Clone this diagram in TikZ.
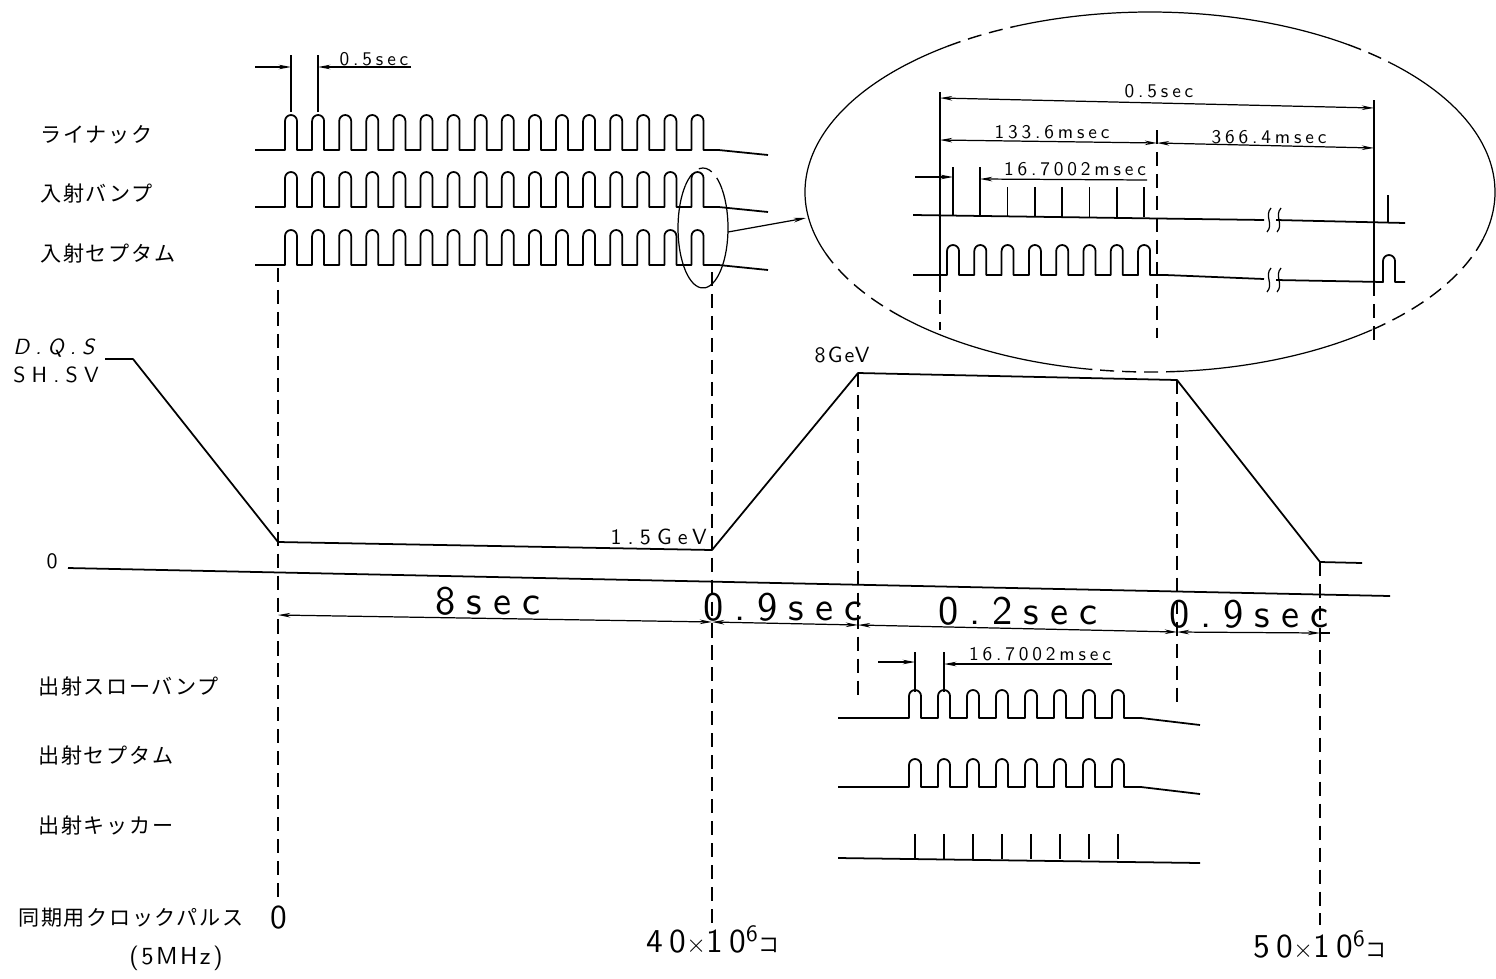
\documentclass[tikz,border=0pt]{standalone}
\usepackage{fontspec}
\newfontfamily\jp{Noto Sans CJK JP}[LetterSpace=8]
\newfontfamily\plt{lmsans10-regular.otf}[LetterSpace=20,ItalicFont=lmsans10-oblique.otf]
\newfontfamily\pltwide{lmsans10-regular.otf}[LetterSpace=28,ItalicFont=lmsans10-oblique.otf]
\newfontfamily\plttight{lmsans10-regular.otf}[LetterSpace=10]
\usetikzlibrary{arrows.meta}
% break mark on a long time line
\newcommand{\brkmark}[2]{%
  \draw[line width=0.7pt] (#1+3,#2-12) .. controls (#1-4,#2-4) and (#1+6,#2+4) .. (#1-1,#2+12);}

\begin{document}
\begin{tikzpicture}[x=0.2mm,y=-0.2mm,
  wave/.style={line width=1pt,line join=round},
  guide/.style={line width=0.8pt,dash pattern=on 8pt off 4.5pt},
  dimline/.style={line width=0.7pt},
  >={Stealth[length=7pt,width=2.6pt]},
  jlab/.style={font={\fontsize{12}{12}\jp},anchor=west,inner sep=0pt},
  smalltxt/.style={font={\fontsize{11}{11}\plt},inner sep=0pt},
  midtxt/.style={font={\fontsize{12.5}{12.5}\pltwide},inner sep=0pt},
  bigtxt/.style={font={\fontsize{23}{23}\pltwide},inner sep=0pt},
  cnttxt/.style={font={\fontsize{19}{19}\plt},inner sep=0pt}]
  \useasboundingbox (0,0) rectangle (1496,978);
  \def\ra{345}
  \def\rb{180}

  % signal names
  \node[jlab] (linac) at (40,135) {ライナック};
  \node[jlab] (injbump) at (40,193) {入射バンプ};
  \node[jlab] (injsep) at (40,253) {入射セプタム};
  \node[jlab] (extbump) at (38,686) {出射スローバンプ};
  \node[jlab] (extsep) at (38,755) {出射セプタム};
  \node[jlab] (extkick) at (38,825) {出射キッカー};
  \node[jlab] (clock) at (18,918) {同期用クロックパルス};
  \node[inner sep=0pt,font={\fontsize{14}{14}\plttight}] (mhz) at (176,958) {(5MHz)};
  \node[cnttxt] (c0) at (279,918) {0};
  \node[cnttxt] (c40) at (713,940) {40{\fontsize{14}{14}\selectfont$\times$}10\textsuperscript{6}{\fontsize{12}{12}\jp コ}};
  \node[cnttxt] (c50) at (1320,945) {50{\fontsize{14}{14}\selectfont$\times$}10\textsuperscript{6}{\fontsize{12}{12}\jp コ}};

  % injection pulse trains
  \foreach \yb in {150,207,265}
    \draw[wave] (255,\yb) -- (285,\yb)
      \foreach \i in {1,...,16} { -- ++(0,-29) arc[start angle=180,end angle=360,radius=6] -- ++(0,29) -- ++(15.1,0) }
      -- (768,\yb+5);
  \draw[dimline] (291,112) -- (291,55) (318,112) -- (318,55);
  \draw[dimline,->] (255,67) -- (291,67);
  \draw[dimline,->] (411,67) -- (318,67);
  \node[smalltxt] (t05) at (374,59) {0.5sec};

  % close-up marks
  \coordinate (sel) at (703,228);
  \coordinate (mag) at (1150,192);
  \draw[guide,line width=0.7pt] ([shift={(225:25 and 60)}]sel) arc[start angle=225,end angle=320,x radius=25,y radius=60];
  \draw[dimline] ([shift={(320:25 and 60)}]sel) arc[start angle=320,end angle=585,x radius=25,y radius=60];
  \foreach \a/\b/\s in {160/234/solid,234/247/guide,247/305/solid,305/314/guide,314/375/solid,
                        15/50/guide,50/85/solid,85/100/guide,100/136/solid,136/160/guide}
    \draw[dimline,\s] ([shift={(\a:{\ra} and {\rb})}]mag) arc[start angle=\a,end angle=\b,x radius=\ra,y radius=\rb];
  \coordinate (selR) at (728,232);
  \coordinate (magL) at (806,218);
  \draw[dimline,->] (selR) -- (magL);

  % inside the close-up
  \draw[dimline] (940,92) -- (940,278);
  \draw[guide] (940,278) -- (940,330);
  \draw[guide] (1157,130) -- (1157,338);
  \draw[dimline] (1374,100) -- (1374,282);
  \draw[guide] (1374,282) -- (1374,340);
  \draw[dimline,<->] (940,98) -- (1374,108);
  \node[smalltxt] (i05) at (1159,91) {0.5sec};
  \draw[dimline,<->] (940,140) -- (1157,143);
  \node[smalltxt] (i133) at (1052,132) {133.6msec};
  \draw[dimline,<->] (1157,143) -- (1374,148);
  \node[smalltxt] (i366) at (1269,137) {366.4msec};
  \draw[dimline,->] (915,177) -- (953,177);
  \draw[dimline,->] (1147,180) -- (980,179);
  \node[smalltxt] (i167) at (1075,169) {16.7002msec};
  \draw[wave] (913,215) -- (1264,220);
  \draw[wave] (1276,220) -- (1405,223);
  \draw[wave] (953,216) -- (953,167) (980,216) -- (980,167);
  \foreach \i in {2,...,7}
    \draw[wave] (953+27.3*\i,217) -- ++(0,-30);
  \draw[wave] (1388,223) -- (1388,195);
  \brkmark{1268}{220}
  \brkmark{1278}{220}
  \draw[wave] (913,275) -- (947,275)
    \foreach \i in {1,...,8} { -- ++(0,-24) arc[start angle=180,end angle=360,radius=6] -- ++(0,24) -- ++(15.3,0) }
    -- (1264,279);
  \draw[wave] (1276,280) -- (1383,282) -- ++(0,-21) arc[start angle=180,end angle=360,radius=6] -- ++(0,21) -- (1405,282);
  \brkmark{1268}{280}
  \brkmark{1278}{280}

  % magnet excitation
  \node[midtxt,anchor=west] (dqs) at (13,348) {\itshape D.Q.S};
  \node[midtxt,anchor=west] (shsv) at (13,375) {SH.SV};
  \node[midtxt] (zero) at (52,561) {0};
  \draw[wave] (105,359) -- (133,359) -- (278,542) -- (712,550) -- (858,373) -- (1177,380) -- (1320,562) -- (1362,563);
  \draw[wave] (68,568) -- (1390,596);
  \node[midtxt,anchor=south east] (e15) at (707,545) {1.5GeV};
  \node[inner sep=0pt,font={\fontsize{12.5}{12.5}\plttight}] (e8) at (842,355) {8GeV};

  % time marks
  \draw[guide] (278,268) -- (278,905);
  \draw[guide] (712,272) -- (712,925);
  \draw[guide] (858,373) -- (858,700);
  \draw[guide] (1177,380) -- (1177,705);
  \draw[guide] (1320,562) -- (1320,925);
  \draw[dimline,<->] (278,615) -- (712,622);
  \draw[dimline,<->] (712,622) -- (858,625);
  \draw[dimline,<->] (858,625) -- (1177,632);
  \draw[dimline,<->] (1177,632) -- (1320,633);
  \draw[dimline] (1320,633) -- (1330,633);
  \node[bigtxt] (s8) at (488,601) {8sec};
  \node[bigtxt] (s09a) at (783,607) {0.9sec};
  \node[bigtxt] (s02) at (1018,611) {0.2sec};
  \node[bigtxt] (s09b) at (1249,614) {0.9sec};

  % extraction
  \foreach \yb in {718,787}
    \draw[wave] (838,\yb) -- (909,\yb)
      \foreach \i in {1,...,8} { -- ++(0,-22) arc[start angle=180,end angle=360,radius=6] -- ++(0,22) -- ++(17,0) }
      -- (1200,\yb+7);
  \draw[wave] (838,858) -- (1200,863);
  \foreach \i in {0,...,7}
    \draw[wave] (915+29*\i,859) -- ++(0,-25);
  \draw[dimline] (915,692) -- (915,652) (944,692) -- (944,652);
  \draw[dimline,->] (878,662) -- (915,662);
  \draw[dimline,->] (1112,664) -- (944,664);
  \node[smalltxt] (x167) at (1040,654) {16.7002msec};
\end{tikzpicture}
\end{document}
